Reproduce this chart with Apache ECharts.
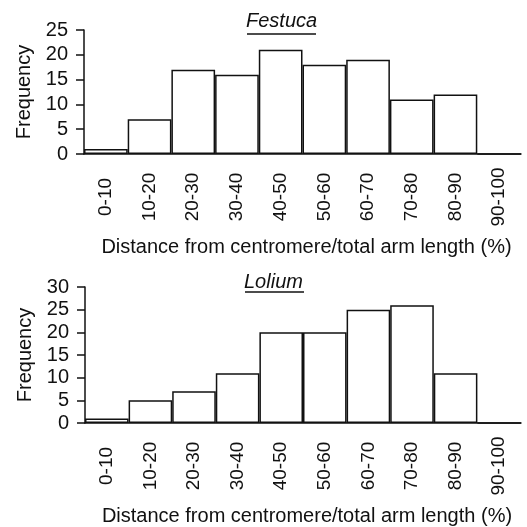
<!DOCTYPE html>
<html>
<head>
<meta charset="utf-8">
<script src="https://cdn.jsdelivr.net/npm/echarts@6/dist/echarts.min.js"></script>
<style>
  html, body { margin: 0; padding: 0; background: #fff; }
  #chart { width: 527px; height: 527px; }
</style>
</head>
<body>
<div id="chart"></div>
<script>
// bins of distance from centromere / total arm length (%)
var bins = ['0-10', '10-20', '20-30', '30-40', '40-50', '50-60', '60-70', '70-80', '80-90', '90-100'];
var festuca = [1, 7, 17, 16, 21, 18, 19, 11, 12, 0];
var lolium = [1, 5, 7, 11, 20, 20, 25, 26, 11, 0];
var titles = ['Festuca', 'Lolium'];
var yMax = [25, 30];

var font = 'Liberation Sans, Arial, Helvetica, sans-serif';
var ink = '#111';

var myChart = echarts.init(document.getElementById('chart'));

function xAxisFor(idx) {
    return {
        type: 'category',
        gridIndex: idx,
        data: bins,
        boundaryGap: true,
        name: 'Distance from centromere/total arm length (%)',
        nameLocation: 'middle',
        nameGap: 83,
        nameTextStyle: { fontFamily: font, fontSize: 20, color: ink, padding: [0, 0, 0, 8] },
        axisLine: { lineStyle: { color: ink, width: 1.5 } },
        axisTick: { interval: 0, length: 9, lineStyle: { color: ink, width: 1.5 } },
        axisLabel: {
            interval: 0, rotate: 90, align: 'center', verticalAlign: 'middle',
            margin: 43, fontFamily: font, fontSize: 19, color: ink
        },
        splitLine: { show: false }
    };
}

function yAxisFor(idx) {
    return {
        type: 'value',
        gridIndex: idx,
        min: 0,
        max: yMax[idx],
        interval: 5,
        name: 'Frequency',
        nameLocation: 'middle',
        nameGap: 50,
        nameTextStyle: { fontFamily: font, fontSize: 20, color: ink },
        axisLine: { show: true, lineStyle: { color: ink, width: 1.5 } },
        axisTick: { show: true, length: 8, lineStyle: { color: ink, width: 1.5 } },
        axisLabel: { margin: 16, fontFamily: font, fontSize: 20, color: ink },
        splitLine: { show: false }
    };
}

function barSeries(idx, values) {
    return {
        type: 'bar',
        xAxisIndex: idx,
        yAxisIndex: idx,
        data: values,
        barCategoryGap: '0%',
        itemStyle: { color: '#fff', borderColor: ink, borderWidth: 1.5 },
        silent: true
    };
}

var chartOption = {
    backgroundColor: '#fff',
    animation: false,
    grid: [
        { left: 84, top: 30, width: 437, height: 124 },
        { left: 85, top: 287, width: 436, height: 138 }
    ],
    graphic: [
        { type: 'text', left: 246, top: 11,
          style: { text: titles[0], font: 'italic 20px ' + font, fill: ink } },
        { type: 'line', shape: { x1: 247, y1: 34, x2: 316, y2: 34 },
          style: { stroke: ink, lineWidth: 1.5 } },
        { type: 'text', left: 244, top: 272,
          style: { text: titles[1], font: 'italic 20px ' + font, fill: ink } },
        { type: 'line', shape: { x1: 245, y1: 292, x2: 304, y2: 292 },
          style: { stroke: ink, lineWidth: 1.5 } }
    ],
    xAxis: [xAxisFor(0), xAxisFor(1)],
    yAxis: [yAxisFor(0), yAxisFor(1)],
    series: [barSeries(0, festuca), barSeries(1, lolium)]
};
myChart.setOption(chartOption);
</script>
</body>
</html>
